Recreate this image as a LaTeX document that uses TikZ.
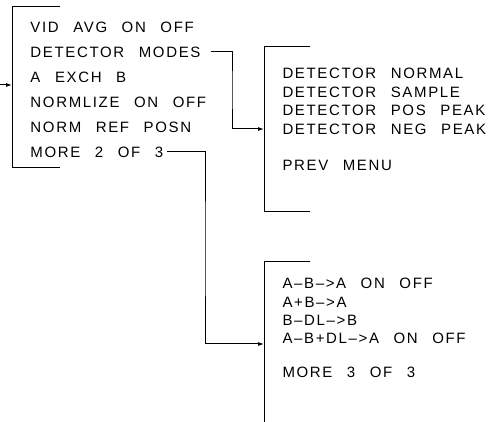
\documentclass[tikz,border=0pt]{standalone}
\usepackage{fontspec}
\setmainfont{Liberation Sans}[LetterSpace=11, WordSpace=2.5]
\usetikzlibrary{arrows.meta}

\begin{document}
\begin{tikzpicture}[x=1pt, y=-1pt, line width=1pt,
  item/.style={anchor=west, inner sep=0pt, text height=10.7pt, text depth=0pt,
    font=\fontsize{15}{15}\selectfont},
  link/.style={-{Latex[length=6pt, width=4pt]}}]
  \useasboundingbox (0,0) rectangle (496,422);

  % first menu
  \node[item] (vid)   at (30,27)  {VID AVG ON OFF};
  \node[item] (modes) at (30,52)  {DETECTOR MODES};
  \node[item] (exch)  at (30,77)  {A EXCH B};
  \node[item] (norm)  at (30,102) {NORMLIZE ON OFF};
  \node[item] (ref)   at (30,127) {NORM REF POSN};
  \node[item] (more2) at (30,152) {MORE 2 OF 3};
  \draw (60,7) -- (12,7) -- (12,168) -- (60,168);
  \coordinate (m1src) at (0,85);
  \coordinate (m1in)  at (12,85);
  \draw[link] (m1src) -- (m1in);

  % detector menu
  \node[item] (dnorm) at (282,73)  {DETECTOR NORMAL};
  \node[item] (dsamp) at (282,92)  {DETECTOR SAMPLE};
  \node[item] (dpos)  at (282,110) {DETECTOR POS PEAK};
  \node[item] (dneg)  at (282,129) {DETECTOR NEG PEAK};
  \node[item] (prev)  at (282,165) {PREV MENU};
  \draw (310,47) -- (264,47) -- (264,212) -- (310,212);
  \coordinate (m2in) at (264,129);

  % third menu
  \node[item] (amb)   at (282,283) {A--B-->A ON OFF};
  \node[item] (apb)   at (282,302) {A+B-->A};
  \node[item] (bdl)   at (282,320) {B--DL-->B};
  \node[item] (ambdl) at (282,338) {A--B+DL-->A ON OFF};
  \node[item] (more3) at (282,372) {MORE 3 OF 3};
  \draw (310,262) -- (264,262) -- (264,422);
  \coordinate (m3in) at (264,344);

  % links between menus
  \coordinate (bend1) at (232,90);
  \coordinate (bend2) at (205,250);
  \draw[link] ([xshift=10pt]modes.east) -| (bend1) |- (m2in);
  \draw[link] ([xshift=3pt]more2.east) -| (bend2) |- (m3in);
\end{tikzpicture}
\end{document}
